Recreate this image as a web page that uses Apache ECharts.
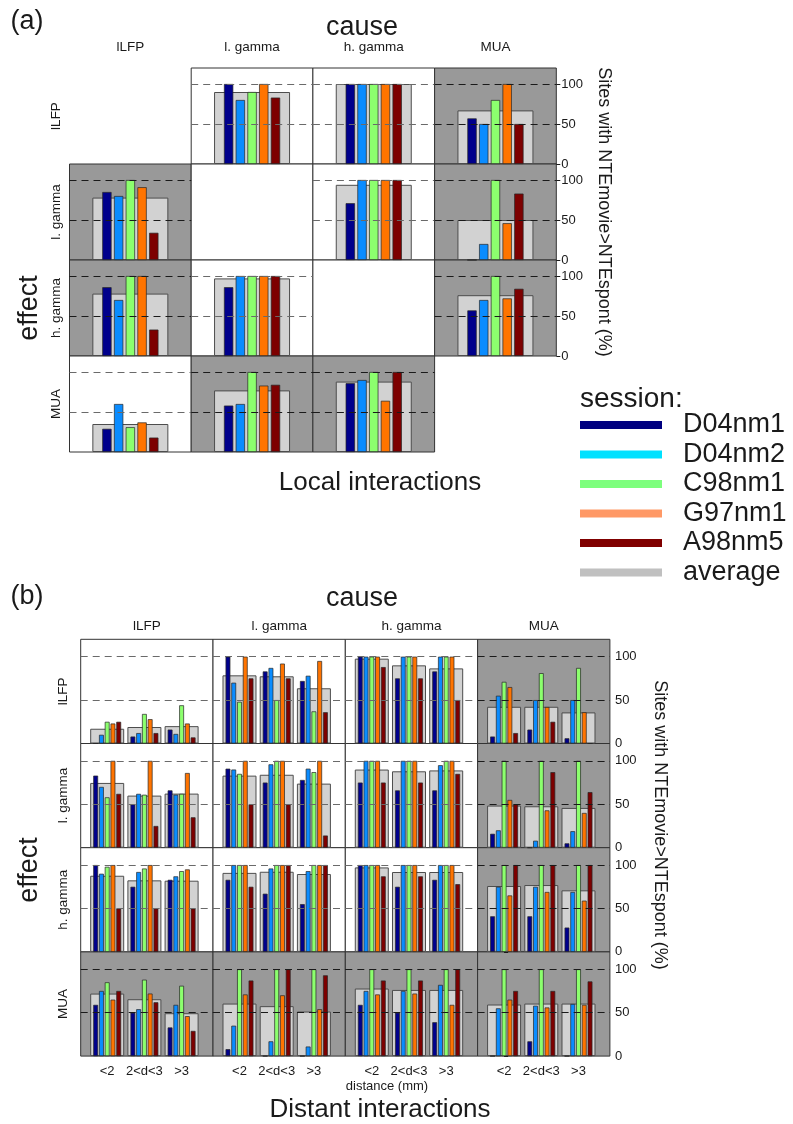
<!DOCTYPE html>
<html><head><meta charset="utf-8">
<script src="https://cdn.jsdelivr.net/npm/echarts@6/dist/echarts.min.js"></script>
<style>html,body{margin:0;padding:0;background:#fff}#chart{width:793px;height:1124px}</style>
</head><body><div id="chart"></div>
<script>
// ---------------- DATA ----------------
const sessions = ['D04nm1', 'D04nm2', 'C98nm1', 'G97nm1', 'A98nm5'];
const averageName = 'average';
const areas = ['lLFP', 'l. gamma', 'h. gamma', 'MUA'];
const distanceBins = ['<2', '2<d<3', '>3'];
const yTicks = [0, 50, 100];

// (a) Local interactions: rows = effect, columns = cause (null = no data)
const localD04nm1 = [[null, 100, 100, 57], [85, null, 71, 0], [86, 86, null, 57], [29, 58, 86, null]];
const localD04nm2 = [[null, 80, 100, 50], [80, null, 100, 20], [70, 100, null, 70], [60, 60, 90, null]];
const localC98nm1 = [[null, 90, 100, 80], [100, null, 100, 100], [100, 100, null, 100], [31, 100, 100, null]];
const localG97nm1 = [[null, 100, 100, 100], [91, null, 100, 46], [100, 100, null, 72], [37, 83, 64, null]];
const localA98nm5 = [[null, 83, 100, 50], [34, null, 100, 83], [33, 100, null, 84], [18, 84, 100, null]];
const localAverage = [[null, 90, 100, 67], [78, null, 94, 50], [78, 97, null, 76], [35, 77, 88, null]];

// (b) Distant interactions: [effect][cause][distance bin]
const distantD04nm1 = [
  [[0, 8, 16], [100, 83, 72], [100, 75, 83], [8, 16, 6]],
  [[83, 50, 66], [91, 75, 78], [75, 66, 66], [16, 0, 5]],
  [[100, 75, 83], [83, 67, 55], [100, 75, 83], [41, 41, 28]],
  [[59, 50, 33], [8, 0, 0], [59, 50, 39], [0, 17, 0]]];
const distantD04nm2 = [
  [[10, 12, 11], [70, 87, 78], [100, 100, 100], [55, 50, 50]],
  [[70, 62, 61], [90, 96, 91], [100, 100, 95], [20, 8, 19]],
  [[90, 92, 87], [100, 96, 93], [100, 100, 100], [75, 75, 69]],
  [[75, 54, 59], [35, 17, 11], [75, 75, 82], [55, 58, 60]]];
const distantC98nm1 = [
  [[25, 34, 44], [48, 50, 37], [100, 100, 100], [71, 81, 87]],
  [[58, 61, 62], [85, 100, 87], [100, 100, 100], [100, 100, 100]],
  [[98, 96, 93], [100, 100, 100], [100, 100, 100], [100, 100, 100]],
  [[85, 88, 81], [100, 100, 100], [100, 100, 100], [100, 100, 100]]];
const distantG97nm1 = [
  [[23, 28, 23], [100, 92, 95], [100, 100, 100], [65, 42, 36]],
  [[100, 100, 86], [100, 100, 100], [100, 100, 100], [55, 43, 40]],
  [[100, 100, 95], [100, 100, 100], [100, 100, 100], [65, 69, 59]],
  [[65, 72, 46], [71, 70, 54], [71, 72, 59], [65, 56, 59]]];
const distantA98nm5 = [
  [[25, 12, 7], [75, 75, 36], [88, 75, 50], [12, 25, 0]],
  [[62, 25, 35], [50, 50, 14], [75, 75, 85], [50, 87, 64]],
  [[50, 50, 50], [75, 100, 100], [87, 87, 78], [100, 100, 100]],
  [[75, 62, 29], [87, 100, 93], [87, 87, 100], [75, 75, 86]]];
const distantAverage = [
  [[17, 19, 20], [78.5, 77.4, 63.6], [97.7, 90, 86.5], [42.3, 42.3, 35.8]],
  [[74.6, 60, 62.3], [83, 84, 73.8], [90, 88, 89], [48.5, 47.7, 45.8]],
  [[87.7, 82.4, 82], [91, 92.3, 89.7], [97.3, 92, 92], [75.9, 77, 70.9]],
  [[72, 65.5, 49.4], [60.5, 57.5, 51.3], [77.8, 76.2, 76.2], [59.4, 60.5, 60.5]]];

// ---------------- STYLE / LAYOUT ----------------
const FONT = '"Liberation Sans", Arial, Helvetica, sans-serif';
const INK = '#1a1a1a';
const GRAY = '#999999';
const WHITE = '#ffffff';
const barColors = ['#00008c', '#0a8cff', '#8cff6e', '#ff7400', '#7d0000'];
const avgColor = '#d2d2d2';
const legendColors = ['#000080', '#00e1ff', '#7dff7d', '#ff9966', '#800000', '#c0c0c0'];
// cell shading of panel (a): g = gray, w = white, e = empty frame, null = nothing
const localShade = [[null, 'w', 'w', 'g'], ['g', 'e', 'w', 'g'], ['g', 'w', 'e', 'g'], ['w', 'g', 'g', null]];

const A = { left: 69.5, top: 68, w: 121.7, h: 96 };
const B = { left: 80.7, top: 639.3, w: 132.3, h: 104.2 };

const localSeries = [localD04nm1, localD04nm2, localC98nm1, localG97nm1, localA98nm5];
const distantSeries = [distantD04nm1, distantD04nm2, distantC98nm1, distantG97nm1, distantA98nm5];

const option = { animation: false, backgroundColor: '#fff', grid: [], xAxis: [], yAxis: [], series: [], graphic: [] };

function addCell(p) {
  const gi = option.grid.length;
  option.grid.push({ left: p.left, top: p.top, width: p.width, height: p.height, show: true,
    backgroundColor: p.bg, borderColor: '#333', borderWidth: 1 });
  const xa = option.xAxis.length;
  for (let k = 0; k < 2; k++) {
    const ax = { gridIndex: gi, axisLine: { show: false }, axisTick: { show: false }, splitLine: { show: false } };
    if (p.xType === 'value') { ax.type = 'value'; ax.min = p.xMin; ax.max = p.xMax; }
    else { ax.type = 'category'; ax.data = p.cats; }
    if (k === 0 && p.bottomLabels) {
      ax.axisLabel = { show: true, customValues: [0, 1, 2], formatter: v => distanceBins[Math.round(v)],
        fontSize: 13, color: INK, fontFamily: FONT, margin: 9 };
    } else ax.axisLabel = { show: false };
    option.xAxis.push(ax);
  }
  const ya = option.yAxis.length;
  option.yAxis.push({ gridIndex: gi, type: 'value', min: 0, max: 120, position: 'right',
    axisLine: { show: false }, splitLine: { show: false },
    axisTick: { show: !!p.rightAxis, length: 4, customValues: yTicks, lineStyle: { color: INK } },
    axisLabel: { show: !!p.rightAxis, customValues: yTicks, fontSize: 13, color: INK, fontFamily: FONT, margin: 5 } });
  if (p.empty) return;
  option.series.push({ type: 'bar', name: averageName, xAxisIndex: xa, yAxisIndex: ya, data: p.avg,
    barWidth: p.avgW, z: 1, silent: true, emphasis: { disabled: true },
    itemStyle: { color: avgColor, borderColor: '#4d4d4d', borderWidth: 1 } });
  for (let i = 0; i < 5; i++) {
    const s = { type: 'bar', name: sessions[i], xAxisIndex: xa + 1, yAxisIndex: ya, data: p.sess[i],
      barWidth: p.barW, barGap: p.barGap, z: 2, silent: true, emphasis: { disabled: true },
      itemStyle: { color: barColors[i], borderColor: '#262626', borderWidth: 0.7 } };
    if (i === 4) {
      s.markLine = { silent: true, symbol: 'none', label: { show: false }, animation: false,
        lineStyle: { type: [7, 5], color: p.bg === GRAY ? '#1a1a1a' : '#6a6a6a', width: 1 },
        emphasis: { disabled: true },
        data: [{ yAxis: 50 }, { yAxis: 100 }] };
    }
    option.series.push(s);
  }
}

// panel (a)
for (let r = 0; r < 4; r++) {
  for (let c = 0; c < 4; c++) {
    const sh = localShade[r][c];
    if (!sh) continue;
    const cell = { left: A.left + c * A.w, top: A.top + r * A.h, width: A.w, height: A.h,
      bg: sh === 'g' ? GRAY : WHITE, cats: ['all'], rightAxis: c === 3, avgW: 76, barW: 9.3, barGap: '26%' };
    if (sh === 'e') cell.empty = true;
    else {
      cell.avg = [localAverage[r][c]];
      cell.sess = localSeries.map(m => [m[r][c]]);
    }
    addCell(cell);
  }
}
// panel (b)
for (let r = 0; r < 4; r++) {
  for (let c = 0; c < 4; c++) {
    addCell({ left: B.left + c * B.w, top: B.top + r * B.h, width: B.w, height: B.h,
      bg: (r === 3 || c === 3) ? GRAY : WHITE, xType: 'value', xMin: -0.712, xMax: 2.844,
      rightAxis: c === 3, bottomLabels: r === 3, avgW: 34, barW: 4.8, barGap: '20%',
      avg: distantAverage[r][c].map((v, i) => [i, v]),
      sess: distantSeries.map(m => m[r][c].map((v, i) => [i, v])) });
  }
}

// texts
function txt(x, y, s, size, rot, align, va) {
  option.graphic.push({ type: 'text', x: x, y: y, rotation: rot || 0, silent: true, z: 100,
    style: { text: s, fontSize: size, fontFamily: FONT, fill: INK, align: align || 'center', verticalAlign: va || 'middle' } });
}
const CCW = Math.PI / 2, CW = -Math.PI / 2;
txt(27, 22, '(a)', 27);
txt(362, 28, 'cause', 27);
for (let c = 0; c < 4; c++) txt(A.left + (c + 0.5) * A.w, 47, areas[c], 13.5);
for (let r = 0; r < 4; r++) txt(56, A.top + (r + 0.5) * A.h, areas[r], 13.5, CCW);
txt(30, 308, 'effect', 27, CCW);
txt(380, 483, 'Local interactions', 26);
txt(604, 212, 'Sites with NTEmovie>NTEspont (%)', 18, CW);
txt(580, 399, 'session:', 28, 0, 'left', 'middle');

txt(27, 597, '(b)', 27);
txt(362, 599, 'cause', 27);
for (let c = 0; c < 4; c++) txt(B.left + (c + 0.5) * B.w, 626, areas[c], 13.5);
for (let r = 0; r < 4; r++) txt(63, B.top + (r + 0.5) * B.h, areas[r], 13.5, CCW);
txt(30, 870, 'effect', 27, CCW);
txt(387, 1086, 'distance (mm)', 13);
txt(380, 1110, 'Distant interactions', 26);
txt(660, 825, 'Sites with NTEmovie>NTEspont (%)', 18, CW);

option.legend = { orient: 'vertical', left: 575, top: 406, icon: 'rect', itemWidth: 82, itemHeight: 8,
  itemGap: 1.5, selectedMode: false,
  textStyle: { fontSize: 27, fontFamily: FONT, color: INK, padding: [0, 0, 0, 16], lineHeight: 28 },
  data: sessions.concat([averageName]).map((n, i) => ({ name: n, itemStyle: { color: legendColors[i], borderWidth: 0 } })) };

const chart = echarts.init(document.getElementById('chart'), null, { renderer: 'canvas' });
chart.setOption(option);
</script></body></html>
